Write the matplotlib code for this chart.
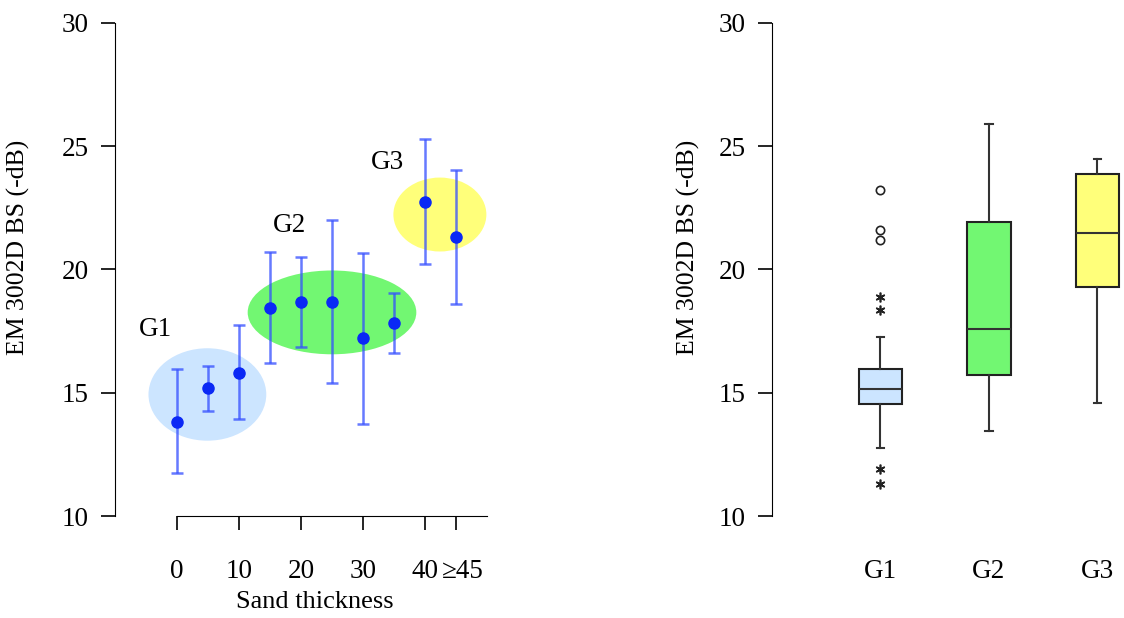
import matplotlib.pyplot as plt
import matplotlib.transforms as mtransforms
import numpy as np
from matplotlib.patches import Ellipse

plt.rcParams['font.family'] = ['Liberation Serif', 'DejaVu Serif']
plt.rcParams['font.size'] = 19

# left panel: mean backscatter (+/- sd) per sand thickness class
thickness = [0, 5, 10, 15, 20, 25, 30, 35, 40, 45]
bs_mean = [13.83, 15.18, 15.81, 18.43, 18.67, 18.69, 17.21, 17.83, 22.75, 21.31]
bs_upper = [15.95, 16.10, 17.75, 20.70, 20.50, 22.02, 20.68, 19.06, 25.29, 24.05]
bs_lower = [11.76, 14.26, 13.94, 16.19, 16.86, 15.41, 13.73, 16.63, 20.21, 18.61]
xtick_vals = [0, 10, 20, 30, 40, 45]
xtick_labels = ['0', '10', '20', '30', '40', '\u226545']

groups = ['G1', 'G2', 'G3']
group_colors = ['#cce5ff', '#72f772', '#ffff7a']

# right panel: box plot statistics per group
box_whislo = [12.77, 13.45, 14.60]
box_q1 = [14.54, 15.71, 19.28]
box_med = [15.14, 17.57, 21.47]
box_q3 = [15.98, 21.91, 23.87]
box_whishi = [17.27, 25.90, 24.47]
g1_out_circles = [23.22, 21.60, 21.20]
g1_out_stars = [18.90, 18.36, 11.91, 11.30]

fig = plt.figure(figsize=(11.24, 6.18), dpi=100)
ax1 = fig.add_axes([115/1124, 1-516/618, 372/1124, 493/618])
ax2 = fig.add_axes([772/1124, 1-516/618, 347/1124, 493/618])

# ellipses around the groups
ell = [(4.9, 14.93, 19.0, 3.75), (25.0, 18.26, 27.2, 3.4), (42.4, 22.23, 15.0, 3.0)]
for (cx, cy, w, h), c in zip(ell, group_colors):
    ax1.add_patch(Ellipse((cx, cy), w, h, facecolor=c, edgecolor='none', zorder=1, clip_on=False))

lab_pos = [(-3.5, 17.55), (18.1, 21.8), (34.0, 24.36)]
for g, (lx, ly) in zip(groups, lab_pos):
    ax1.text(lx, ly, g, ha='center', va='center', fontsize=19.5)

mean = np.array(bs_mean)
yerr = [mean - np.array(bs_lower), np.array(bs_upper) - mean]
ax1.errorbar(thickness, bs_mean, yerr=yerr, fmt='none', ecolor=(0.2, 0.3, 1.0, 0.75),
             elinewidth=1.8, capsize=4, capthick=1.8, zorder=2)
ax1.plot(thickness, bs_mean, 'o', color='#0a28f5', ms=8, zorder=3)

ax1.set_xlim(-10, 50)
ax1.set_ylim(10, 30)
for s in ['top', 'right']:
    ax1.spines[s].set_visible(False)
ax1.spines['left'].set_bounds(10, 30)
ax1.spines['bottom'].set_bounds(0, 50)
ax1.set_xticks(xtick_vals)
ax1.set_xticklabels(xtick_labels)
ax1.set_yticks([10, 15, 20, 25, 30])
ax1.tick_params(axis='x', length=10, width=1.2, pad=21, labelsize=19.5)
ax1.tick_params(axis='y', length=10, width=1.2, pad=9, labelsize=19.5)
# nudge the last label to the right, as in the original
last = ax1.get_xticklabels()[-1]
last.set_transform(last.get_transform() + mtransforms.ScaledTranslation(7/100, 0, fig.dpi_scale_trans))
ax1.set_xlabel('Sand thickness', fontsize=19)
ax1.xaxis.set_label_coords(0.538, -0.153)
ax1.set_ylabel('EM 3002D BS (-dB)', fontsize=18.5)
ax1.yaxis.set_label_coords(-0.228, 0.544)

# right panel
stats = []
for i, g in enumerate(groups):
    stats.append(dict(label=g, whislo=box_whislo[i], q1=box_q1[i], med=box_med[i],
                      q3=box_q3[i], whishi=box_whishi[i], fliers=[]))
bp = ax2.bxp(stats, positions=[1, 2, 3], widths=0.4, patch_artist=True, showfliers=False,
             boxprops=dict(linewidth=1.5, edgecolor='#222222'),
             medianprops=dict(color='#333333', linewidth=1.5),
             whiskerprops=dict(color='#333333', linewidth=1.5),
             capprops=dict(color='#333333', linewidth=1.5), capwidths=0.07)
for patch, c in zip(bp['boxes'], group_colors):
    patch.set_facecolor(c)
for art in bp['boxes'] + bp['medians'] + bp['whiskers'] + bp['caps']:
    art.set_clip_on(False)

ax2.plot([1] * len(g1_out_circles), g1_out_circles, 'o', mfc='white', mec='#222222', ms=6, mew=1.2)
ax2.plot([1] * len(g1_out_stars), g1_out_stars, ls='none', marker=(6, 2, 0), color='#222222', ms=7, mew=1.2)

ax2.set_xlim(0, 3.2)
ax2.set_ylim(10, 30)
for s in ['top', 'right', 'bottom']:
    ax2.spines[s].set_visible(False)
ax2.spines['left'].set_bounds(10, 30)
ax2.set_yticks([10, 15, 20, 25, 30])
ax2.set_xticks([1, 2, 3])
ax2.set_xticklabels(groups)
ax2.tick_params(axis='x', length=0, pad=31, labelsize=19.5)
ax2.tick_params(axis='y', length=10, width=1.2, pad=9, labelsize=19.5)
ax2.set_ylabel('EM 3002D BS (-dB)', fontsize=18.5)
ax2.yaxis.set_label_coords(-0.207, 0.544)

fig.savefig('out.png', dpi=100)
